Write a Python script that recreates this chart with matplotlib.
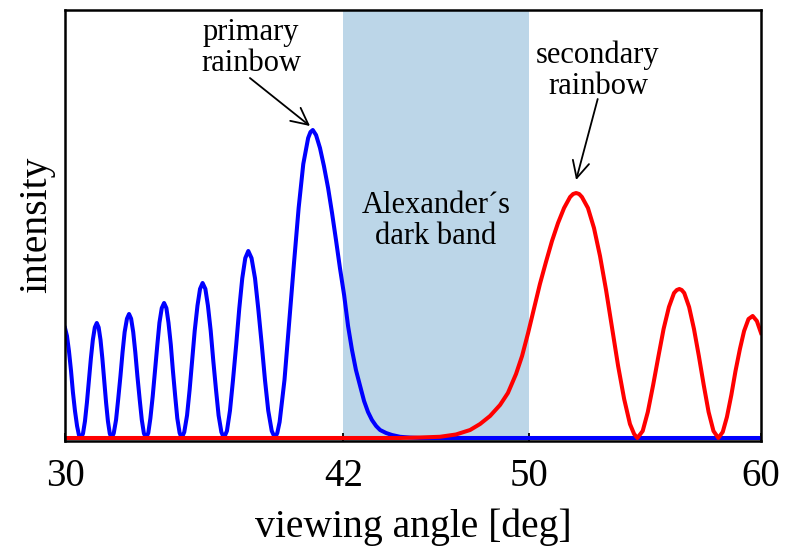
import matplotlib.pyplot as plt

plt.rcParams['font.family'] = ['Liberation Serif', 'DejaVu Serif']

# primary rainbow (blue)
blue_x = [30.00, 30.085, 30.17, 30.26, 30.34, 30.43, 30.52, 30.60, 30.69,
          30.775, 30.86, 30.945, 31.03, 31.115, 31.20, 31.285, 31.37,
          31.45, 31.53, 31.61, 31.69, 31.77, 31.85, 31.93, 32.01,
          32.10, 32.20, 32.29, 32.39, 32.48, 32.57, 32.67, 32.76,
          32.85, 32.94, 33.03, 33.12, 33.22, 33.31, 33.40, 33.49,
          33.59, 33.68, 33.78, 33.88, 33.98, 34.07, 34.17, 34.27,
          34.37, 34.46, 34.56, 34.65, 34.75, 34.84, 34.94, 35.03,
          35.14, 35.26, 35.37, 35.48, 35.59, 35.71, 35.82, 35.93,
          36.05, 36.16, 36.28, 36.39, 36.51, 36.62, 36.74, 36.85,
          36.98, 37.11, 37.24, 37.38, 37.51, 37.64, 37.77, 37.90,
          38.04, 38.19, 38.33, 38.48, 38.62, 38.76, 38.91, 39.05,
          39.15, 39.25, 39.46, 39.66, 39.87, 40.07, 40.27, 40.48, 40.58, 40.68,
          40.82, 40.99, 41.16, 41.34, 41.51, 41.68, 41.85, 42.03, 42.20, 42.37,
          42.54, 42.72, 42.89, 43.06, 43.23, 43.41, 43.58, 43.84, 44.09, 44.44,
          44.87, 45.30, 60.00]
blue_y = [1.10, 1.02, 0.87, 0.67, 0.46, 0.27, 0.12, 0.03, 0.00,
          0.044, 0.168, 0.355, 0.575, 0.795, 0.982, 1.106, 1.15,
          1.106, 0.982, 0.795, 0.575, 0.355, 0.168, 0.044, 0.00,
          0.047, 0.181, 0.383, 0.62, 0.857, 1.059, 1.193, 1.24,
          1.193, 1.059, 0.857, 0.62, 0.383, 0.181, 0.047, 0.00,
          0.051, 0.197, 0.417, 0.675, 0.933, 1.153, 1.299, 1.35,
          1.299, 1.153, 0.933, 0.675, 0.417, 0.197, 0.051, 0.00,
          0.059, 0.226, 0.479, 0.775, 1.071, 1.324, 1.491, 1.55,
          1.491, 1.324, 1.071, 0.775, 0.479, 0.226, 0.059, 0.00,
          0.071, 0.273, 0.578, 0.935, 1.292, 1.597, 1.799, 1.87,
          1.799, 1.597, 1.292, 0.935, 0.578, 0.273, 0.071, 0.00,
          0.05, 0.16, 0.58, 1.15, 1.75, 2.30, 2.74, 3.00, 3.06, 3.08,
          3.03, 2.90, 2.72, 2.50, 2.25, 1.98, 1.70, 1.43, 1.12, 0.88,
          0.68, 0.52, 0.37, 0.26, 0.18, 0.12, 0.08, 0.05, 0.03, 0.012,
          0.004, 0.00, 0.00]

# secondary rainbow (red)
red_x = [30.00, 44.44, 45.30, 46.16, 46.85, 47.46, 47.89, 48.32, 48.75,
         49.09, 49.44, 49.70, 49.96, 50.22, 50.47, 50.73, 50.99, 51.25,
         51.51, 51.77, 51.90, 52.03, 52.16, 52.28, 52.54, 52.80, 53.06,
         53.32, 53.58, 53.84, 54.10, 54.35, 54.53, 54.67,
         54.90, 55.12, 55.35, 55.58, 55.80, 56.03, 56.25, 56.37, 56.48,
         56.58, 56.69, 56.90, 57.11, 57.32, 57.53, 57.74, 57.95, 58.16,
         58.35, 58.53, 58.72, 58.90, 59.09, 59.27, 59.46, 59.64, 59.82, 60.00]
red_y = [0.00, 0.00, 0.005, 0.012, 0.035, 0.08, 0.14, 0.22, 0.33,
         0.45, 0.64, 0.82, 1.05, 1.30, 1.54, 1.76, 1.97, 2.15,
         2.30, 2.41, 2.44, 2.45, 2.44, 2.41, 2.30, 2.10, 1.82,
         1.48, 1.10, 0.72, 0.39, 0.14, 0.04, 0.00,
         0.07, 0.26, 0.53, 0.82, 1.09, 1.31, 1.45, 1.48, 1.49,
         1.48, 1.45, 1.31, 1.09, 0.82, 0.53, 0.26, 0.07, 0.00,
         0.06, 0.21, 0.43, 0.67, 0.89, 1.07, 1.19, 1.22, 1.17, 1.05]

band = [42, 50]
xticks = [30, 42, 50, 60]

fig = plt.figure(figsize=(7.87, 5.47), dpi=100)
ax = fig.add_axes([0.0826, 0.1938, 0.8844, 0.7888])

ax.axvspan(band[0], band[1], color='#bcd6e8', lw=0, zorder=0)
ax.plot(blue_x, blue_y, color='blue', lw=2.9, solid_joinstyle='round', zorder=2)
ax.plot(red_x, red_y, color='red', lw=2.9, solid_joinstyle='round', zorder=3)

ax.set_xlim(30, 60)
ax.set_ylim(-0.03, 4.285)
ax.set_xticks(xticks)
ax.set_yticks([])
ax.tick_params(axis='x', direction='in', length=6, width=1.3, labelsize=28, pad=12)
for s in ax.spines.values():
    s.set_linewidth(1.8)
    s.set_zorder(5)

ax.set_xlabel('viewing angle [deg]', fontsize=28.5, labelpad=10)
ax.set_ylabel('intensity', fontsize=28.5, labelpad=7)

arrow = dict(arrowstyle='->', lw=1.3, color='black', mutation_scale=30,
             shrinkA=0, shrinkB=0)
ax.text(38.02, 3.90, 'primary\nrainbow', fontsize=22, ha='center', va='center', linespacing=1.1)
ax.annotate('', xy=(40.56, 3.12), xytext=(37.97, 3.60), arrowprops=arrow)
ax.text(52.97, 3.67, 'secondary\nrainbow', fontsize=22, ha='center', va='center', linespacing=1.1)
ax.annotate('', xy=(52.03, 2.58), xytext=(52.96, 3.39), arrowprops=arrow)
ax.text(45.99, 2.17, 'Alexander\u00b4s\ndark band', fontsize=22, ha='center', va='center',
        linespacing=1.1)

fig.savefig('out.png', dpi=100)
